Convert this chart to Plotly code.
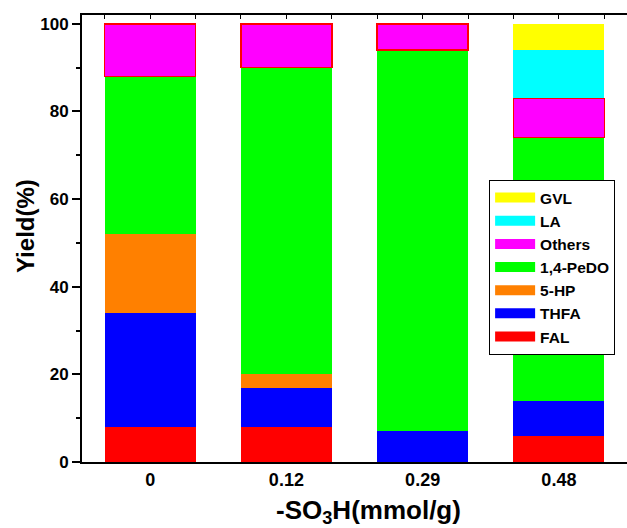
import plotly.graph_objects as go

categories = ["0", "0.12", "0.29", "0.48"]
series_names = ["FAL", "THFA", "5-HP", "1,4-PeDO", "Others", "LA", "GVL"]
FAL = [8, 8, 0, 6]
THFA = [26, 9, 7, 8]
HP5 = [18, 3, 0, 0]
PeDO = [36, 70, 87, 60]
Others = [12, 10, 6, 9]
LA = [0, 0, 0, 11]
GVL = [0, 0, 0, 6]
y_ticks = [0, 20, 40, 60, 80, 100]

values = [FAL, THFA, HP5, PeDO, Others, LA, GVL]
colors = ["#FF0000", "#0000FF", "#FF8000", "#00FF00", "#FF00FF", "#00FFFF", "#FFFF00"]

xpos = list(range(len(categories)))
FONT = dict(family="Arial, Liberation Sans", color="black", weight="bold")

fig = go.Figure()
for name, vals, col in zip(series_names, values, colors):
    outline = "#FF0000" if name == "Others" else col
    lw = 1.5 if name == "Others" else 0
    fig.add_trace(go.Bar(
        x=xpos, y=vals, name=name, marker=dict(color=col, line=dict(color=outline, width=lw)),
        showlegend=False, width=2/3,
    ))
# legend entries (wide swatches)
for name, col in zip(series_names, colors):
    fig.add_trace(go.Scatter(
        x=[None], y=[None], mode="lines", name=name,
        line=dict(color=col, width=15), showlegend=True,
    ))
# top axis carrier
fig.add_trace(go.Scatter(x=[None], y=[None], xaxis="x2", showlegend=False, hoverinfo="skip"))

fig.update_layout(
    width=627, height=528,
    barmode="stack",
    plot_bgcolor="white", paper_bgcolor="white",
    margin=dict(l=82, r=0, t=15, b=66),
    font=FONT,
    xaxis=dict(
        range=[-0.5, 3.5], tickmode="array", tickvals=xpos, ticktext=categories,
        ticks="", showline=True, linecolor="black", linewidth=2,
        tickfont=dict(size=18, **FONT), showgrid=False, zeroline=False,
    ),
    xaxis2=dict(
        overlaying="x", side="top", matches="x", range=[-0.5, 3.5],
        tickmode="array", tickvals=[i / 3 - 1 / 3 for i in range(14)],
        ticks="inside", ticklen=4, tickwidth=1, tickcolor="black",
        showticklabels=False, showline=True, linecolor="black", linewidth=2,
        showgrid=False, zeroline=False,
    ),
    yaxis=dict(
        range=[0, 102], tickmode="array", tickvals=y_ticks,
        ticks="outside", ticklen=8, tickwidth=1.5, tickcolor="black",
        showline=True, linecolor="black", linewidth=2, showgrid=False, zeroline=False,
        tickfont=dict(size=17, **FONT),
        minor=dict(tickmode="array", tickvals=[10, 30, 50, 70, 90], ticks="outside",
                   ticklen=4, tickwidth=1.5, tickcolor="black", showgrid=False),
    ),
    legend=dict(
        x=0.747, y=(462 - 180) / 447, xanchor="left", yanchor="top",
        bgcolor="white", bordercolor="black", borderwidth=1,
        font=dict(size=15.5, **FONT), traceorder="reversed",
        itemwidth=40, tracegroupgap=0,
    ),
    annotations=[
        dict(text="Yield(%)", textangle=-90, xref="paper", yref="paper",
             x=(25 - 82) / 545, y=(462 - 226) / 447, xanchor="center", yanchor="middle",
             showarrow=False, font=dict(size=24, **FONT)),
        dict(text="-SO<sub>3</sub>H(mmol/g)", xref="paper", yref="paper",
             x=(368 - 82) / 545, y=(462 - 511) / 447, xanchor="center", yanchor="middle",
             showarrow=False, font=dict(size=26, **FONT)),
    ],
)

fig.write_html("out.html")
